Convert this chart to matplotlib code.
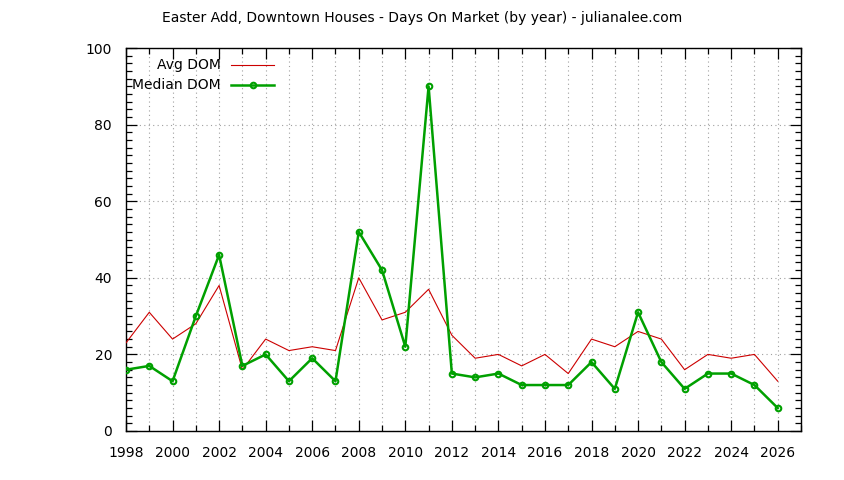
import matplotlib.pyplot as plt
from matplotlib.lines import Line2D
from matplotlib.ticker import MultipleLocator

years = list(range(1998, 2027))
avg_dom = [23, 31, 24, 28, 38, 16, 24, 21, 22, 21, 40, 29, 31, 37, 25,
           19, 20, 17, 20, 15, 24, 22, 26, 24, 16, 20, 19, 20, 13]
median_dom = [16, 17, 13, 30, 46, 17, 20, 13, 19, 13, 52, 42, 22, 90, 15,
              14, 15, 12, 12, 12, 18, 11, 31, 18, 11, 15, 15, 12, 6]

plt.rcParams['font.family'] = 'DejaVu Sans'
plt.rcParams['font.size'] = 10

fig = plt.figure(figsize=(8.44, 4.8), dpi=100)
ax = fig.add_axes([126 / 844, 1 - 431 / 480, 675 / 844, 383 / 480])

red = '#cc0000'
green = '#00a000'
ax.plot(years, avg_dom, color=red, lw=0.8, zorder=3)
ax.plot(years, median_dom, color=green, lw=1.8, marker='o', ms=4,
        mfc='none', mew=1.5, zorder=4)

ax.set_xlim(1998, 2027)
ax.set_ylim(0, 100)
ax.xaxis.set_major_locator(MultipleLocator(2))
ax.xaxis.set_minor_locator(MultipleLocator(1))
ax.yaxis.set_major_locator(MultipleLocator(20))
ax.yaxis.set_minor_locator(MultipleLocator(2))
ax.tick_params(which='both', direction='in', top=True, right=True, labelsize=10)
ax.tick_params(axis='x', which='both', pad=11)
ax.tick_params(axis='y', which='both', pad=10)
ax.tick_params(which='major', length=8, width=0.9)
ax.tick_params(which='minor', length=4, width=0.9)
ax.grid(True, which='major', axis='y', color='#a0a0a0', ls=(0, (1, 3)), lw=0.8)
ax.grid(True, which='both', axis='x', color='#a0a0a0', ls=(0, (1, 3)), lw=0.8)
for s in ax.spines.values():
    s.set_linewidth(1.0)

fig.text(0.5, 1 - 18 / 480, 'Easter Add, Downtown Houses - Days On Market (by year) - julianalee.com',
         ha='center', va='center', fontsize=10)

# legend drawn gnuplot style: label right aligned, sample on the right
for i, (lbl, col, lw, mk) in enumerate([('Avg DOM', red, 0.8, None),
                                        ('Median DOM', green, 1.8, 'o')]):
    y = 65 + 20 * i
    fig.text(221 / 844, 1 - y / 480, lbl, ha='right', va='center', fontsize=10)
    fig.add_artist(Line2D([231 / 844, 274 / 844], [1 - y / 480, 1 - y / 480],
                          color=col, lw=lw, transform=fig.transFigure))
    if mk:
        fig.add_artist(Line2D([252.5 / 844], [1 - y / 480], color=col, marker='o',
                              ms=4, mfc='none', mew=1.5, transform=fig.transFigure))

fig.savefig('out.png', dpi=100)
